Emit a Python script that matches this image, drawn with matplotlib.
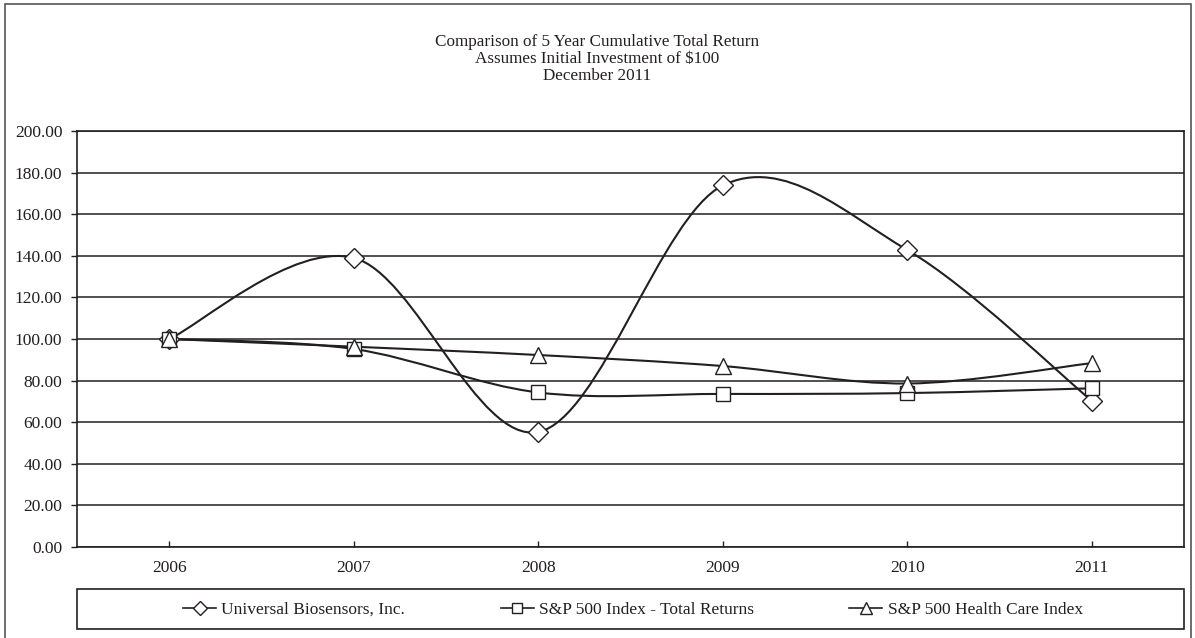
import matplotlib
matplotlib.use("Agg")
import matplotlib.pyplot as plt
from matplotlib.lines import Line2D
from matplotlib.patches import PathPatch, Rectangle
from matplotlib.path import Path
import numpy as np

plt.rcParams["font.family"] = ["Liberation Serif", "DejaVu Serif"]

YEARS = ["2006", "2007", "2008", "2009", "2010", "2011"]
UNIVERSAL = [100.0, 139.0, 55.3, 173.8, 142.8, 70.3]
SP500 = [100.0, 95.2, 74.3, 73.6, 74.0, 76.3]
HEALTH = [100.0, 96.3, 92.3, 87.0, 78.6, 88.4]

# (label, values, marker, plot marker size, legend marker size)
SERIES = [
    ("Universal Biosensors, Inc.", UNIVERSAL, "D", 10, 7),
    ("S&P 500 Index - Total Returns", SP500, "s", 10, 7.5),
    ("S&P 500 Health Care Index", HEALTH, "^", 12, 8.5),
]
INK = "#231f20"
TITLE = "Comparison of 5 Year Cumulative Total Return\nAssumes Initial Investment of $100\nDecember 2011"

W, H = 1195, 638


def smooth_path(xs, ys):
    # Excel style smoothed line: Catmull-Rom segments as cubic Bezier curves
    pts = np.column_stack([xs, ys]).astype(float)
    ext = np.vstack([pts[0], pts, pts[-1]])
    verts = [pts[0]]
    codes = [Path.MOVETO]
    for i in range(len(pts) - 1):
        p0, p1, p2, p3 = ext[i], ext[i + 1], ext[i + 2], ext[i + 3]
        verts += [p1 + (p2 - p0) / 6.0, p2 - (p3 - p1) / 6.0, p2]
        codes += [Path.CURVE4] * 3
    return Path(verts, codes)


fig = plt.figure(figsize=(W / 100, H / 100), dpi=100)
ax = fig.add_axes([77 / W, (H - 547) / H, 1107 / W, 416 / H])

x = np.arange(len(YEARS))
for name, values, marker, size, _ in SERIES:
    ax.add_patch(PathPatch(smooth_path(x, values), fill=False, edgecolor=INK, lw=1.5, zorder=3))
    ax.plot(x, values, linestyle="none", marker=marker, markersize=size,
            markerfacecolor="white", markeredgecolor=INK, markeredgewidth=1.0, zorder=4)

ax.set_xlim(-0.5, len(YEARS) - 0.5)
ax.set_ylim(0, 200)
ax.set_yticks(np.arange(0, 201, 20))
ax.set_yticklabels([f"{v:.2f}" for v in np.arange(0, 201, 20)], fontsize=12.5)
ax.set_xticks(x)
ax.set_xticklabels(YEARS, fontsize=12.5)
ax.grid(axis="y", color=INK, lw=1.1)
ax.set_axisbelow(True)
ax.tick_params(axis="y", direction="out", length=4.5, width=1, color=INK, pad=6, labelcolor=INK)
ax.tick_params(axis="x", direction="in", length=4, width=1, color=INK, pad=9, labelcolor=INK)
for spine in ax.spines.values():
    spine.set_color(INK)
    spine.set_linewidth(1.2)

fig.text(0.5, 1 - 34 / H, TITLE, ha="center", va="top", fontsize=12.3,
         linespacing=1.1, color=INK)

# legend box along the bottom
fig.patches.append(Rectangle((77 / W, 9 / H), 1107 / W, 40 / H,
                             transform=fig.transFigure, fill=False, edgecolor=INK, lw=1.2))
handles = [Line2D([], [], color=INK, lw=1.2, marker=m, markersize=ls,
                  markerfacecolor="white", markeredgecolor=INK, markeredgewidth=1.0)
           for _, _, m, _, ls in SERIES]
fig.legend(handles, [s[0] for s in SERIES], loc="center", ncol=3,
           bbox_to_anchor=(633 / W, 28 / H), frameon=False, fontsize=12.5,
           handlelength=1.9, handletextpad=0.3, columnspacing=5.5,
           labelcolor=INK, borderpad=0)

# outer border (bottom edge falls outside the image)
fig.patches.append(Rectangle((5 / W, -5 / H), 1186 / W, (H + 1) / H,
                             transform=fig.transFigure, fill=False, edgecolor="#555555", lw=1.2))

fig.savefig("out.png", dpi=100)
